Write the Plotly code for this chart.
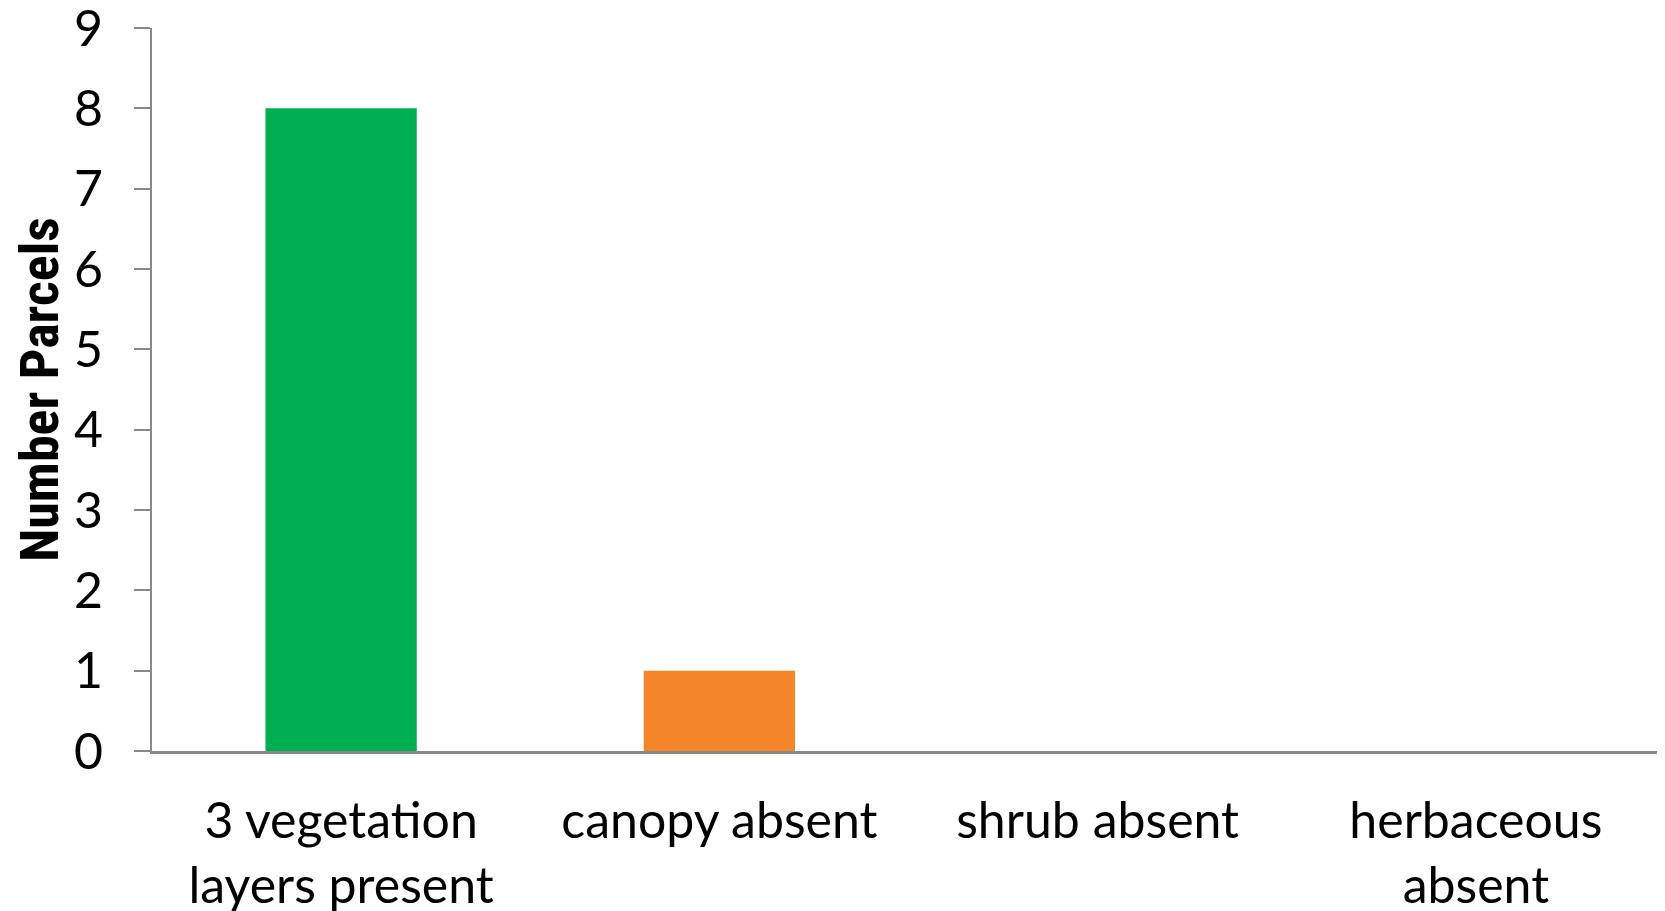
import plotly.graph_objects as go

categories = ["3 vegetation<br>layers present", "canopy absent", "shrub absent", "herbaceous<br>absent"]
parcels = [8, 1, 0, 0]
bar_colors = ["#00B050", "#F58529", "#4F81BD", "#8064A2"]
y_ticks = [0, 1, 2, 3, 4, 5, 6, 7, 8, 9]

fig = go.Figure(
    go.Bar(
        x=categories,
        y=parcels,
        marker=dict(color=bar_colors, line=dict(width=0)),
        width=0.4,
    )
)

# the page body has an 8px margin, so the figure is drawn 8px smaller
fig.update_layout(
    width=1657,
    height=903,
    paper_bgcolor="white",
    plot_bgcolor="white",
    margin=dict(l=144, r=0, t=20, b=160),
    showlegend=False,
    font=dict(family="Lato, Open Sans, sans-serif", color="black"),
)

fig.update_xaxes(
    automargin=False,
    showline=True,
    linecolor="#888888",
    linewidth=3,
    ticks="",
    tickfont=dict(size=50),
    ticklabelstandoff=24,
)

fig.update_yaxes(
    automargin="left",
    range=[0, 9],
    tickvals=y_ticks,
    ticklabeloverflow="allow",
    showgrid=False,
    zeroline=False,
    showline=True,
    linecolor="#888888",
    linewidth=2,
    ticks="outside",
    ticklen=16,
    tickwidth=2,
    tickcolor="#888888",
    tickfont=dict(size=50),
    ticklabelstandoff=21,
    title=dict(
        text="<b>Number Parcels</b>",
        font=dict(size=54, family="Roboto Condensed, Liberation Sans Narrow, Roboto, sans-serif"),
        standoff=8,
    ),
)

fig.write_html("out.html")
